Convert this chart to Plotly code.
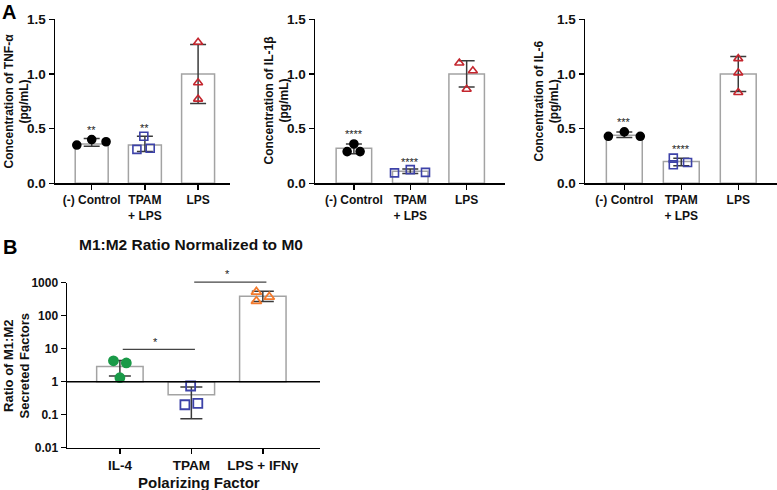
import plotly.graph_objects as go
import math

W, H = 777, 490

# ---------------- data ----------------
cats_A = ["(-) Control", "TPAM<br>+ LPS", "LPS"]

tnf_mean = [0.36, 0.35, 1.00]
tnf_hi = [0.41, 0.43, 1.27]
tnf_lo = [0.34, 0.29, 0.73]
tnf_ctrl = [0.35, 0.40, 0.38]
tnf_tpam = [0.31, 0.43, 0.32]
tnf_lps = [1.29, 0.92, 0.77]
tnf_stars = ["**", "**"]
tnf_star_y = [0.49, 0.51]

il1_mean = [0.32, 0.11, 1.00]
il1_hi = [0.36, 0.13, 1.12]
il1_lo = [0.27, 0.09, 0.88]
il1_ctrl = [0.29, 0.36, 0.29]
il1_tpam = [0.095, 0.125, 0.10]
il1_lps = [1.10, 0.86, 1.03]
il1_stars = ["****", "****"]
il1_star_y = [0.45, 0.195]

il6_mean = [0.44, 0.20, 1.00]
il6_hi = [0.47, 0.23, 1.16]
il6_lo = [0.42, 0.16, 0.84]
il6_ctrl = [0.43, 0.47, 0.43]
il6_tpam = [0.23, 0.17, 0.19]
il6_lps = [1.14, 1.01, 0.83]
il6_stars = ["***", "****"]
il6_star_y = [0.56, 0.31]

cats_B = ["IL-4", "TPAM", "LPS + IFNγ"]
ratio_mean = [2.9, 0.40, 390]
ratio_hi = [4.4, 0.69, 550]
ratio_lo = [1.48, 0.075, 270]
ratio_il4 = [4.3, 3.7, 1.32]
ratio_tpam = [0.74, 0.20, 0.22]
ratio_lps = [525, 275, 370]
sig_B = [(0, 1, 9.5, "*"), (1, 2, 1040, "*")]

# ---------------- style ----------------
FONT = "Liberation Sans"
BAR_LINE = "#a3a3a3"
ERR = "#3a3a3a"
BLACK = "#000000"
BLUE = "#3d42a8"
RED = "#c4262e"
GREEN = "#1a9a48"
ORANGE = "#f47a2c"
TXT = "#111111"

def px_x(p):
    return p / W

def px_y(p):
    return 1 - p / H

panels = [
    dict(ax="", dx=(55, 230), dy=(19.3, 183.3), xr=[-0.69, 2.60], bw=0.62,
         mean=tnf_mean, hi=tnf_hi, lo=tnf_lo, pts=[tnf_ctrl, tnf_tpam, tnf_lps],
         jit=[[-0.28, 0.0, 0.27], [-0.15, -0.02, 0.10], [0, 0, 0]],
         stars=tnf_stars, sy=tnf_star_y,
         title="Concentration of TNF-α<br>(pg/mL)", tx=16.5),
    dict(ax="2", dx=(315, 505), dy=(19.3, 183.3), xr=[-0.69, 2.68], bw=0.63,
         mean=il1_mean, hi=il1_hi, lo=il1_lo, pts=[il1_ctrl, il1_tpam, il1_lps],
         jit=[[-0.12, 0.0, 0.11], [-0.28, 0.0, 0.27], [-0.13, 0.0, 0.11]],
         stars=il1_stars, sy=il1_star_y,
         title="Concentration of IL-1β<br>(pg/mL)", tx=276.5),
    dict(ax="3", dx=(585, 777), dy=(19.3, 183.3), xr=[-0.69, 2.68], bw=0.63,
         mean=il6_mean, hi=il6_hi, lo=il6_lo, pts=[il6_ctrl, il6_tpam, il6_lps],
         jit=[[-0.28, 0.0, 0.28], [-0.14, -0.14, 0.11], [0, 0, 0]],
         stars=il6_stars, sy=il6_star_y,
         title="Concentration of IL-6<br>(pg/mL)", tx=546.5),
]
group_style = [
    dict(symbol="circle", color=BLACK),
    dict(symbol="square-open", color=BLUE),
    dict(symbol="triangle-up-open", color=RED),
]

fig = go.Figure()
annotations = []
shapes = []

def axis_common(size):
    return dict(showline=True, linecolor=BLACK, linewidth=1.5, ticks="outside",
                tickcolor=BLACK, tickwidth=1.5, showgrid=False, zeroline=False,
                automargin=False,
                tickfont=dict(family=FONT, size=size, color=TXT, weight="bold"),
                fixedrange=True)

def ann(x, y, text, size, angle=0, xref="paper", yref="paper", color=TXT, bold=True):
    return dict(x=x, y=y, xref=xref, yref=yref, text=text, showarrow=False,
                textangle=angle, xanchor="center", yanchor="middle",
                font=dict(family=FONT, size=size, color=color,
                          weight="bold" if bold else "normal"))

for p in panels:
    xa = "x" + p["ax"]
    ya = "y" + p["ax"]
    fig.add_trace(go.Bar(
        x=[0, 1, 2], y=p["mean"], width=p["bw"], xaxis=xa, yaxis=ya,
        marker=dict(color="white", line=dict(color=BAR_LINE, width=1.5)),
        showlegend=False, hoverinfo="skip"))
    fig.add_trace(go.Scatter(
        x=[0, 1, 2], y=p["mean"], xaxis=xa, yaxis=ya, mode="markers",
        marker=dict(size=1, opacity=0),
        error_y=dict(type="data", symmetric=False,
                     array=[h - m for h, m in zip(p["hi"], p["mean"])],
                     arrayminus=[m - l for m, l in zip(p["mean"], p["lo"])],
                     color=ERR, thickness=1.5, width=8),
        showlegend=False, hoverinfo="skip"))
    for g, (vals, jit, st) in enumerate(zip(p["pts"], p["jit"], group_style)):
        fig.add_trace(go.Scatter(
            x=[g + j for j in jit], y=vals, xaxis=xa, yaxis=ya, mode="markers",
            marker=dict(symbol=st["symbol"], color=st["color"], size=8,
                        line=dict(width=1.6, color=st["color"])),
            showlegend=False, hoverinfo="skip", cliponaxis=False))
    for i, (s, y) in enumerate(zip(p["stars"], p["sy"])):
        annotations.append(ann(i, y, s, 11, xref=xa, yref=ya, color="#222", bold=False))
    annotations.append(ann(px_x(p["tx"]), px_y(101), p["title"], 12, angle=-90))
    fig.layout["xaxis" + p["ax"]] = dict(
        domain=[px_x(p["dx"][0]), px_x(p["dx"][1])], range=p["xr"],
        anchor=ya, tickvals=[0, 1, 2], ticktext=cats_A, ticklen=5, **axis_common(12))
    fig.layout["yaxis" + p["ax"]] = dict(
        domain=[px_y(p["dy"][1]), px_y(p["dy"][0])], range=[0, 1.5], anchor=xa,
        tickvals=[0, 0.5, 1.0, 1.5], ticktext=["0.0", "0.5", "1.0", "1.5"],
        ticklen=5, **axis_common(13.5))

# ---------------- panel B ----------------
bdx = (67, 320)
bdy = (282.7, 447.7)
fig.add_trace(go.Bar(
    x=[0, 1, 2], y=[m - 1 for m in ratio_mean], base=[1, 1, 1], width=0.65,
    xaxis="x4", yaxis="y4",
    marker=dict(color="white", line=dict(color=BAR_LINE, width=1.5)),
    showlegend=False, hoverinfo="skip"))
fig.add_trace(go.Scatter(
    x=[0, 1, 2], y=ratio_mean, xaxis="x4", yaxis="y4", mode="markers",
    marker=dict(size=1, opacity=0),
    error_y=dict(type="data", symmetric=False,
                 array=[h - m for h, m in zip(ratio_hi, ratio_mean)],
                 arrayminus=[m - l for m, l in zip(ratio_mean, ratio_lo)],
                 color=ERR, thickness=1.5, width=11),
    showlegend=False, hoverinfo="skip"))
b_groups = [
    (ratio_il4, [-0.09, 0.09, 0.0], dict(symbol="circle", color=GREEN)),
    (ratio_tpam, [-0.01, -0.09, 0.09], dict(symbol="square-open", color=BLUE)),
    (ratio_lps, [-0.09, -0.09, 0.09], dict(symbol="triangle-up-open", color=ORANGE)),
]
for g, (vals, jit, st) in enumerate(b_groups):
    fig.add_trace(go.Scatter(
        x=[g + j for j in jit], y=vals, xaxis="x4", yaxis="y4", mode="markers",
        marker=dict(symbol=st["symbol"], color=st["color"], size=9,
                    line=dict(width=1.8, color=st["color"])),
        showlegend=False, hoverinfo="skip", cliponaxis=False))

dom_b = [px_y(bdy[1]), px_y(bdy[0])]
def b_paper(v):
    return dom_b[0] + (math.log10(v) + 2) / 5 * (dom_b[1] - dom_b[0])

# baseline at 1
shapes.append(dict(type="line", xref="x4 domain", yref="y4", x0=0, x1=1, y0=1, y1=1,
                   line=dict(color=BLACK, width=1.5)))
for a, b, v, s in sig_B:
    shapes.append(dict(type="line", xref="x4", yref="paper", x0=a + 0.04, x1=b + 0.05,
                       y0=b_paper(v), y1=b_paper(v), line=dict(color="#444", width=1.3)))
    annotations.append(ann((a + b) / 2, b_paper(v) + 0.016, s, 11, xref="x4",
                           color="#222", bold=False))

fig.layout["xaxis4"] = dict(domain=[px_x(bdx[0]), px_x(bdx[1])], range=[-0.74, 2.80],
                            anchor="y4", tickvals=[0, 1, 2], ticktext=cats_B, ticklen=5,
                            **axis_common(13.5))
fig.layout["yaxis4"] = dict(domain=dom_b, type="log", range=[-2, 3], anchor="x4",
                            tickvals=[0.01, 0.1, 1, 10, 100, 1000],
                            ticktext=["0.01", "0.1", "1", "10", "100", "1000"],
                            ticklen=5, **axis_common(12))

# titles / labels
annotations += [
    ann(px_x(8.5), px_y(12), "A", 20, color="#000"),
    ann(px_x(10.3), px_y(247), "B", 20, color="#000"),
    ann(px_x(191), px_y(244), "M1:M2 Ratio Normalized to M0", 15.5),
    ann(px_x(198.7), px_y(482), "Polarizing Factor", 15),
    ann(px_x(16.5), px_y(366), "Ratio of M1:M2<br>Secreted Factors", 13, angle=-90),
]

fig.update_layout(width=W, height=H, margin=dict(l=0, r=0, t=0, b=0, autoexpand=False),
                  paper_bgcolor="white", plot_bgcolor="white",
                  annotations=annotations, shapes=shapes, bargap=0,
                  font=dict(family=FONT))
fig.write_html("out.html", config={"displayModeBar": False, "staticPlot": True},
               post_script="document.body.style.margin='0';document.body.style.overflow='hidden';")
